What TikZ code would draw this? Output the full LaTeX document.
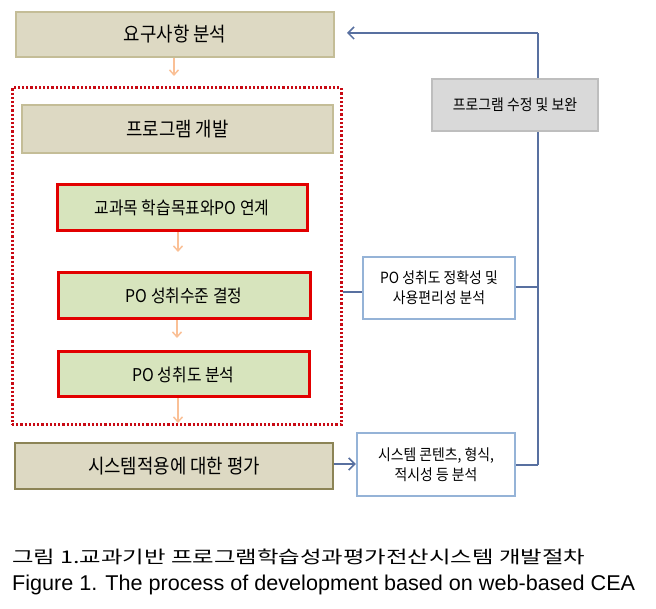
\documentclass[tikz,border=0pt]{standalone}
\usepackage{fontspec}
\setmainfont{Noto Sans CJK KR}
\newfontfamily\boxfont{Noto Sans CJK KR}[FakeStretch=0.9]
\newfontfamily\capen{Liberation Sans}
\usetikzlibrary{arrows.meta}
\definecolor{khakifill}{RGB}{221,217,195}
\definecolor{khakiline}{RGB}{196,189,151}
\definecolor{oliveline}{RGB}{140,132,86}
\definecolor{greenfill}{RGB}{215,228,189}
\definecolor{redline}{RGB}{226,0,0}
\definecolor{dotred}{RGB}{200,10,20}
\definecolor{peach}{RGB}{250,192,150}
\definecolor{greyfill}{RGB}{217,217,217}
\definecolor{greyline}{RGB}{190,190,190}
\definecolor{bluebox}{RGB}{149,179,215}
\definecolor{connblue}{RGB}{88,112,160}
\tikzset{
  khakibox/.style={draw=khakiline, fill=khakifill, line width=2pt, rectangle, inner sep=0pt, font=\boxfont\fontsize{19.8}{22}\selectfont},
  greenbox/.style={draw=redline, fill=greenfill, line width=3pt, rectangle, inner sep=0pt, font=\boxfont\fontsize{17.6}{20}\selectfont},
  greybox/.style={draw=greyline, fill=greyfill, line width=2pt, rectangle, inner sep=0pt, font=\boxfont\fontsize{15.4}{17}\selectfont},
  bluebx/.style={draw=bluebox, fill=white, line width=2.5pt, rectangle, inner sep=0pt, align=center, font=\boxfont\fontsize{15.4}{20}\selectfont},
  peacharrow/.style={draw=peach, line width=1.5pt, -{Straight Barb[length=5pt,width=9pt]}},
  conn/.style={draw=connblue, line width=1.5pt},
  connarrow/.style={conn, -{Straight Barb[length=6pt,width=12pt]}}
}
\begin{document}
\begin{tikzpicture}[x=1pt,y=-1pt]
\useasboundingbox (0,0) rectangle (656,609);
% red dotted frame
\node[draw=dotred, line width=3pt, dash pattern=on 2.2pt off 2pt, rectangle, minimum width=329pt, minimum height=337pt] (frame) at (176.5,256.5) {};
% blue feedback line
\coordinate (vbot) at (538,465);
\coordinate (vtop) at (538,33);
\coordinate (tip1) at (347,33);
\draw[conn] (vbot) -- (vtop);
\draw[connarrow] (vtop) -- (tip1);
% boxes
\node[khakibox, minimum width=318pt, minimum height=45pt] (req) at (175,34.5) {요구사항 분석};
\node[khakibox, minimum width=311pt, minimum height=48pt] (dev) at (177.5,129) {프로그램 개발};
\node[greenbox, minimum width=250pt, minimum height=46pt] (g1) at (182,208) {교과목 학습목표와PO 연계};
\node[greenbox, minimum width=252pt, minimum height=46pt] (g2) at (184,296) {PO 성취수준 결정};
\node[greenbox, minimum width=251pt, minimum height=45pt] (g3) at (183.5,374.5) {PO 성취도 분석};
\node[khakibox, draw=oliveline, line width=2.5pt, minimum width=318pt, minimum height=46pt] (sys) at (174,466) {시스템적용에 대한 평가};
\node[greybox, minimum width=166pt, minimum height=52pt] (mod) at (515,105) {프로그램 수정 및 보완};
\node[bluebx, minimum width=152pt, minimum height=62pt] (acc) at (439,288) {PO 성취도 정확성 및\\사용편리성 분석};
\node[bluebx, minimum width=158pt, minimum height=63pt] (cont) at (436,464.5) {시스템 콘텐츠, 형식,\\적시성 등 분석};
% peach arrows
\coordinate (a1) at (174,76);
\coordinate (a2) at (178,252);
\coordinate (a3) at (177,338);
\coordinate (a4) at (178,423);
\draw[peacharrow] (req.south -| a1) -- (a1);
\draw[peacharrow] (g1.south -| a2) -- (a2);
\draw[peacharrow] (g2.south -| a3) -- (a3);
\draw[peacharrow] (g3.south -| a4) -- (a4);
% blue connectors
\coordinate (j1) at (538,287);
\draw[conn] (frame.east |- 0,292) -- (acc.west |- 0,292);
\draw[conn] (acc.east |- j1) -- (j1);
\draw[connarrow] (sys.east |- 0,464) -- (cont.west |- 0,464);
\draw[conn] (cont.east |- vbot) -- (vbot);
% caption
\node[anchor=base west, inner sep=0pt] (cap1) at (12,563) {\resizebox{573pt}{14.5pt}{\fontsize{21}{24}\selectfont 그림 1.교과기반 프로그램학습성과평가전산시스템 개발절차}};
\node[anchor=base west, inner sep=0pt] (cap2) at (12,590.5) {\resizebox{623pt}{15.5pt}{\capen\fontsize{21}{24}\selectfont Figure 1. The process of development based on web-based CEA}};
\end{tikzpicture}
\end{document}
